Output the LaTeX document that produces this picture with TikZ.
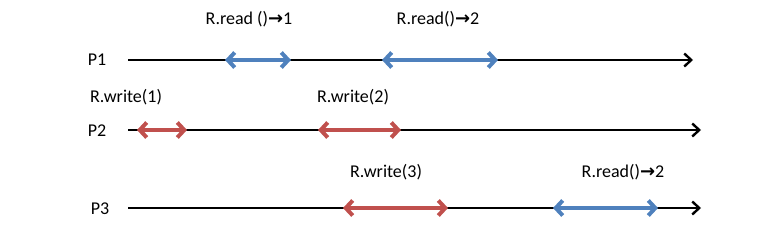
\documentclass[tikz,border=0pt]{standalone}
\usepackage{fontspec}
\setmainfont{Carlito}
\newfontfamily\symfont{DejaVu Sans}
\usetikzlibrary{arrows.meta}
\definecolor{opblue}{HTML}{4F81BD}
\definecolor{opred}{HTML}{C0504D}
\newcommand{\ra}{{\symfont\bfseries→}}
\tikzset{
  timeline/.style={line width=2.6pt, -{Straight Barb[length=7pt,width=13pt,line width=2.4pt]}},
  lbl/.style={font=\fontsize{18}{21}\selectfont, inner sep=0pt},
  opint/.style={line width=4pt, {Straight Barb[length=7pt,width=15pt,line width=4pt]}-{Straight Barb[length=7pt,width=15pt,line width=4pt]}},
  rd/.style={opint, draw=opblue},
  wr/.style={opint, draw=opred}
}
\begin{document}
\begin{tikzpicture}[x=1pt,y=-1pt]
\useasboundingbox (0,0) rectangle (757,250);
% process labels
\node[lbl] (p1) at (97,60) {P1};
\node[lbl] (p2) at (97,131) {P2};
\node[lbl] (p3) at (100,209) {P3};
% timelines
\coordinate (p1s) at (128,60); \coordinate (p1e) at (693,60);
\coordinate (p2s) at (128,130); \coordinate (p2e) at (701,130);
\coordinate (p3s) at (128,208); \coordinate (p3e) at (701,208);
\draw[timeline] (p1s) -- (p1e);
\draw[timeline] (p2s) -- (p2e);
\draw[timeline] (p3s) -- (p3e);
% operations on P1
\coordinate (a1) at (225,60); \coordinate (b1) at (291,60);
\coordinate (a2) at (382,60); \coordinate (b2) at (498,60);
\draw[rd] (a1) -- (b1);
\draw[rd] (a2) -- (b2);
\node[lbl] (r1) at (249,19) {R.read ()\ra1};
\node[lbl] (r2) at (438,19) {R.read()\ra2};
% operations on P2
\coordinate (a3) at (137,130); \coordinate (b3) at (187,130);
\coordinate (a4) at (318,130); \coordinate (b4) at (401,130);
\draw[wr] (a3) -- (b3);
\draw[wr] (a4) -- (b4);
\node[lbl] (w1) at (126,97) {R.write(1)};
\node[lbl] (w2) at (353,97) {R.write(2)};
% operations on P3
\coordinate (a5) at (343,208); \coordinate (b5) at (448,208);
\coordinate (a6) at (553,208); \coordinate (b6) at (658,208);
\draw[wr] (a5) -- (b5);
\draw[rd] (a6) -- (b6);
\node[lbl] (w3) at (386,172) {R.write(3)};
\node[lbl] (r3) at (623,172) {R.read()\ra2};
\end{tikzpicture}
\end{document}
